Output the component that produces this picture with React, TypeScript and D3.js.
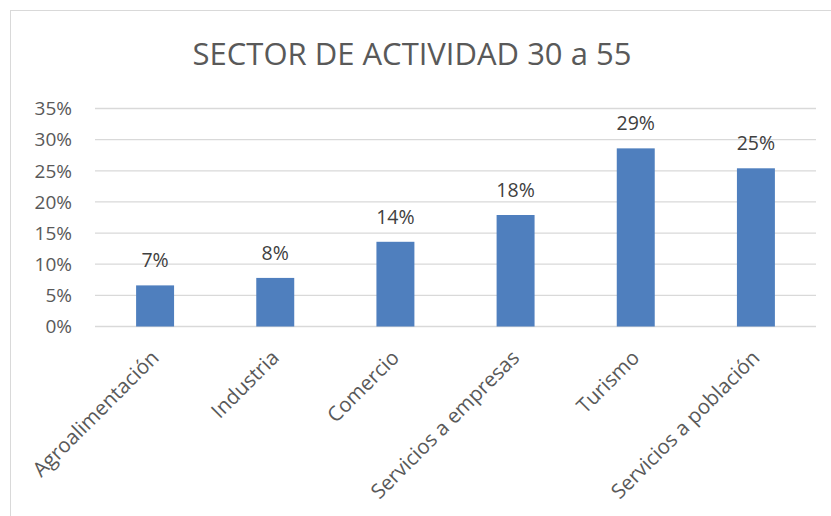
import React from "react";
import * as d3 from "d3";

const categories = ["Agroalimentación", "Industria", "Comercio", "Servicios a empresas", "Turismo", "Servicios a población"];
const values = [0.066, 0.078, 0.136, 0.179, 0.286, 0.254];
const dataLabels = ["7%", "8%", "14%", "18%", "29%", "25%"];
const yTicks = [0, 0.05, 0.1, 0.15, 0.2, 0.25, 0.3, 0.35];
const title = "SECTOR DE ACTIVIDAD 30 a 55";

const W = 831;
const H = 516;
const FONT = "'Open Sans', sans-serif";

export default function App() {
  const x = d3.scaleBand<string>().domain(categories).range([95, 816]).paddingInner(0.684).paddingOuter(0.342);
  const y = d3.scaleLinear().domain([0, 0.35]).range([326.5, 108.5]);
  const fmt = d3.format(".0%");
  return (
    <svg width={W} height={H} style={{ position: "absolute", left: 0, top: 0, background: "#fff" }}>
      <rect x={10.5} y={10.5} width={W} height={H} fill="#fff" stroke="#d9d9d9" strokeWidth={1} />
      <text x={412} y={65} textAnchor="middle" fontFamily={FONT} fontSize={31} fill="#595959">{title}</text>
      {yTicks.map((t) => (
        <g key={t}>
          <line x1={95} x2={816} y1={y(t)} y2={y(t)} stroke="#d9d9d9" strokeWidth={1.3} />
          <text x={72} y={y(t)} dy="0.36em" textAnchor="end" fontFamily={FONT} fontSize={19} fill="#595959">{fmt(t)}</text>
        </g>
      ))}
      {categories.map((c, i) => {
        const bx = x(c)!;
        const bw = x.bandwidth();
        const cx = bx + bw / 2;
        return (
          <g key={c}>
            <rect x={bx} y={y(values[i])} width={bw} height={y(0) - y(values[i])} fill="#4f7fbe" />
            <text x={cx} y={y(values[i]) - 18} textAnchor="middle" fontFamily={FONT} fontSize={19.5} fill="#404040">{dataLabels[i]}</text>
            <text transform={`translate(${cx + 5},${359}) rotate(-45)`} textAnchor="end" fontFamily={FONT} fontSize={20.5} fill="#595959">{c}</text>
          </g>
        );
      })}
    </svg>
  );
}
